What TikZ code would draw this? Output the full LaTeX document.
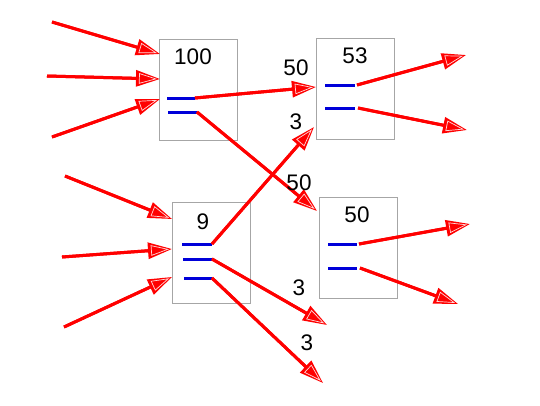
\documentclass[tikz,border=0pt]{standalone}
\usepackage{fontspec}
\setmainfont{Liberation Sans}
\usetikzlibrary{arrows.meta}
\begin{document}
\begin{tikzpicture}[x=1pt,y=-1pt,
  boxn/.style={draw=gray!70,line width=0.9pt,minimum width=78pt,minimum height=101pt,inner sep=0pt},
  lbl/.style={font=\fontsize{22.5}{22.5}\selectfont,inner sep=0pt},
  port/.style={draw=blue!85!black,line width=3pt},
  flow/.style={draw=red,line width=3pt,-{Triangle[length=24pt,width=16pt,fill=red]},
    postaction={draw=red,line width=3pt,shorten >=3pt,
      -{Triangle[length=18pt,width=10.5pt,fill=red,color=white!85!red,line width=0.7pt]}}}]
\useasboundingbox (0,0) rectangle (540,405);
% boxes
\node[boxn] (A) at (198,89.5) {};
\node[boxn] (B) at (355.5,88.5) {};
\node[boxn] (C) at (211,253) {};
\node[boxn] (D) at (358,247.5) {};
% box labels
\node[lbl] (tA) at (193,57) {100};
\node[lbl] (tB) at (355,56) {53};
\node[lbl] (tC) at (203,222) {9};
\node[lbl] (tD) at (357,215) {50};
% ports
\coordinate (a1s) at (167,98); \coordinate (a1) at (195,98);
\coordinate (a2s) at (168,112); \coordinate (a2) at (197,112);
\coordinate (b1s) at (325,85); \coordinate (b1) at (355,85);
\coordinate (b2s) at (325,108); \coordinate (b2) at (355,108);
\coordinate (c1s) at (182,244); \coordinate (c1) at (212,244);
\coordinate (c2s) at (183,259); \coordinate (c2) at (212,259);
\coordinate (c3s) at (184,278); \coordinate (c3) at (212,278);
\coordinate (d1s) at (328,244); \coordinate (d1) at (357,244);
\coordinate (d2s) at (328,268); \coordinate (d2) at (357,268);
\foreach \p in {a1,a2,b1,b2,c1,c2,c3,d1,d2} \draw[port] (\p s) -- (\p);
% incoming free ends
\coordinate (iA1) at (52,22); \coordinate (eA1) at (160,54);
\coordinate (iA2) at (47,76); \coordinate (eA2) at (160,79);
\coordinate (iA3) at (52,137); \coordinate (eA3) at (160,99);
\coordinate (iC1) at (65,176); \coordinate (eC1) at (172,219);
\coordinate (iC2) at (62,257); \coordinate (eC2) at (172,249);
\coordinate (iC3) at (64,327); \coordinate (eC3) at (172,277);
\draw[flow] (iA1) -- (eA1);
\draw[flow] (iA2) -- (eA2);
\draw[flow] (iA3) -- (eA3);
\draw[flow] (iC1) -- (eC1);
\draw[flow] (iC2) -- (eC2);
\draw[flow] (iC3) -- (eC3);
% connections between boxes
\coordinate (eB1) at (316,87);
\coordinate (eB2) at (314,127);
\coordinate (eD) at (317,211);
\draw[flow] (a1) -- (eB1);
\draw[flow] (a2) -- (eD);
\draw[flow] (c1) -- (eB2);
% outgoing free ends
\coordinate (oB1) at (466,55);
\coordinate (oB2) at (467,130);
\coordinate (oD1) at (470,224);
\coordinate (oD2) at (458,304);
\coordinate (oC2) at (327,325);
\coordinate (oC3) at (323,383);
\draw[flow] ([xshift=2pt]b1) -- (oB1);
\draw[flow] ([xshift=3pt]b2) -- (oB2);
\draw[flow] ([xshift=2pt]d1) -- (oD1);
\draw[flow] ([xshift=3pt]d2) -- (oD2);
\draw[flow] (c2) -- (oC2);
\draw[flow] (c3) -- (oC3);
% flow labels
\node[lbl] (l1) at (296,68) {50};
\node[lbl] (l2) at (296,122) {3};
\node[lbl] (l3) at (299,183) {50};
\node[lbl] (l4) at (299,288) {3};
\node[lbl] (l5) at (307,343) {3};
\end{tikzpicture}
\end{document}
